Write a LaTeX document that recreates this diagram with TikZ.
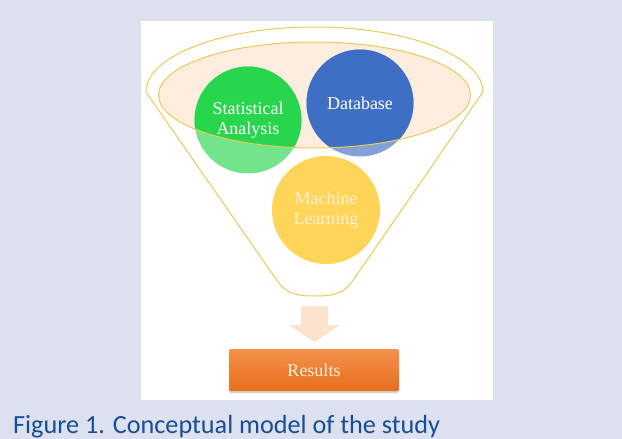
\documentclass[tikz,border=0pt]{standalone}
\usepackage{fontspec}
\setmainfont{Liberation Serif}
\newfontfamily\capfont{Carlito}
\usetikzlibrary{shadows}

\definecolor{pagebg}{RGB}{221,225,239}
\definecolor{rimgold}{RGB}{234,202,88}
\definecolor{rimfill}{RGB}{252,237,222}
\definecolor{statgreen}{RGB}{40,214,78}
\definecolor{dbblue}{RGB}{63,111,196}
\definecolor{mlyellow}{RGB}{255,192,0}
\definecolor{arrowpeach}{RGB}{251,227,206}
\definecolor{restop}{RGB}{243,145,75}
\definecolor{resbottom}{RGB}{232,110,30}
\definecolor{captionblue}{RGB}{23,76,150}
\definecolor{cream}{RGB}{253,240,215}

\begin{document}
\begin{tikzpicture}[x=1pt, y=-1pt,
   bubble/.style={circle, minimum size=107pt, inner sep=0pt, fill opacity=0.65},
   bubble text/.style={align=center, font=\fontsize{18}{20.5}\selectfont, text=white},
   rim/.style={draw=rimgold, line width=1pt},
   result/.style={rectangle, rounded corners=2pt, minimum width=170pt, minimum height=42pt,
      top color=restop, bottom color=resbottom, text=cream,
      font=\fontsize{18}{20}\selectfont,
      drop shadow={shadow xshift=0pt, shadow yshift=-2pt, opacity=0.35}}]

\useasboundingbox (0,0) rectangle (622,439);
\fill[pagebg] (0,0) rectangle (622,439);
\fill[white] (141,21) rectangle (493,400);

% funnel: top rim and sides
\draw[rim] (146,92) .. controls (146,56.1) and (221.4,27) .. (314.5,27)
    .. controls (407.6,27) and (483,56.1) .. (483,92)
    -- (354,279) .. controls (344,294) and (334,296) .. (315,296)
    .. controls (296,296) and (286,294) .. (276,279) -- cycle;
\fill[rimfill] (314.5,95) ellipse [x radius=156pt, y radius=53pt];

\node[bubble, fill=statgreen] (stat) at (248,120) {};
\node[bubble, fill=dbblue] (db) at (360,103) {};
\node[bubble, fill=mlyellow, minimum size=108pt] (ml) at (326,210) {};

% stronger colour inside the rim
\begin{scope}
    \clip (314.5,95) ellipse [x radius=156pt, y radius=53pt];
    \fill[statgreen] (stat) circle (53.5pt);
    \fill[dbblue] (db) circle (53.5pt);
\end{scope}
\draw[rim] (314.5,95) ellipse [x radius=156pt, y radius=53pt];

\node[bubble text] at (stat) {Statistical\\Analysis};
\node[bubble text] at (db) {Database};
\node[bubble text, text=cream] at (ml) {Machine\\Learning};

% arrow into the result box
\fill[arrowpeach] (301,306) -- (328,306) -- (328,325) -- (340,325)
    -- (314.5,342) -- (289,325) -- (301,325) -- cycle;

\node[result] (res) at (314,370) {Results};

\node[anchor=base west, inner sep=0pt, text=captionblue,
      font=\capfont\fontsize{26.2}{30}\selectfont] (caption) at (13,433)
    {Figure 1. Conceptual model of the study};

\end{tikzpicture}
\end{document}
